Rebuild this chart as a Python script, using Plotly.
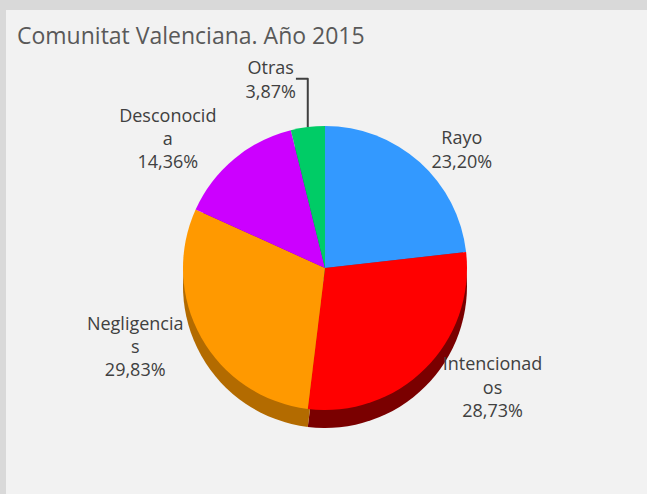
import plotly.graph_objects as go

categories = ["Rayo", "Intencionados", "Negligencias", "Desconocida", "Otras"]
label_text = ["Rayo", "Intencionad<br>os", "Negligencia<br>s", "Desconocid<br>a", "Otras"]
values = [23.20, 28.73, 29.83, 14.36, 3.87]
colors = ["#3399ff", "#ff0000", "#ff9900", "#cc00ff", "#00cc66"]
side_colors = ["#1f5c99", "#7a0000", "#b36b00", "#7a0099", "#007a3d"]

W, H = 647, 494
cx, cy, r = 325, 268, 142
depth = 18

def dom(cy_px):
    return dict(x=[(cx - r) / W, (cx + r) / W], y=[1 - (cy_px + r) / H, 1 - (cy_px - r) / H])

fig = go.Figure()
# darker "side" pie underneath to suggest depth
fig.add_trace(go.Pie(
    labels=categories, values=values, sort=False, direction="clockwise", rotation=0,
    marker=dict(colors=side_colors, line=dict(width=0)),
    textinfo="none", hoverinfo="skip", showlegend=False,
    domain=dom(cy + depth),
))
fig.add_trace(go.Pie(
    labels=categories, values=values, sort=False, direction="clockwise", rotation=0,
    marker=dict(colors=colors, line=dict(width=0)),
    text=label_text,
    texttemplate="%{text}<br>%{value:.2f}%",
    textposition="outside",
    outsidetextfont=dict(color="#404040", size=18, family="Open Sans"),
    showlegend=False,
    domain=dom(cy),
))

fig.update_layout(
    width=W, height=H,
    margin=dict(l=0, r=0, t=0, b=0),
    paper_bgcolor="#f2f2f2",
    plot_bgcolor="#f2f2f2",
    separators=",.",
    font=dict(family="Open Sans", color="#404040"),
    annotations=[dict(
        text="Comunitat Valenciana. Año 2015", x=15 / W, y=1 - 35 / H,
        xref="paper", yref="paper", xanchor="left", yanchor="middle",
        showarrow=False, font=dict(size=23, color="#595959", family="Open Sans"),
    )],
    shapes=[
        dict(type="rect", xref="paper", yref="paper", x0=0, x1=6 / W, y0=0, y1=1,
             fillcolor="#d9d9d9", line=dict(width=0), layer="below"),
        dict(type="rect", xref="paper", yref="paper", x0=0, x1=1, y0=1 - 10 / H, y1=1,
             fillcolor="#d9d9d9", line=dict(width=0), layer="below"),
    ],
)

fig.write_html("out.html", config={"displayModeBar": False},
               post_script="document.body.style.margin='0';")
